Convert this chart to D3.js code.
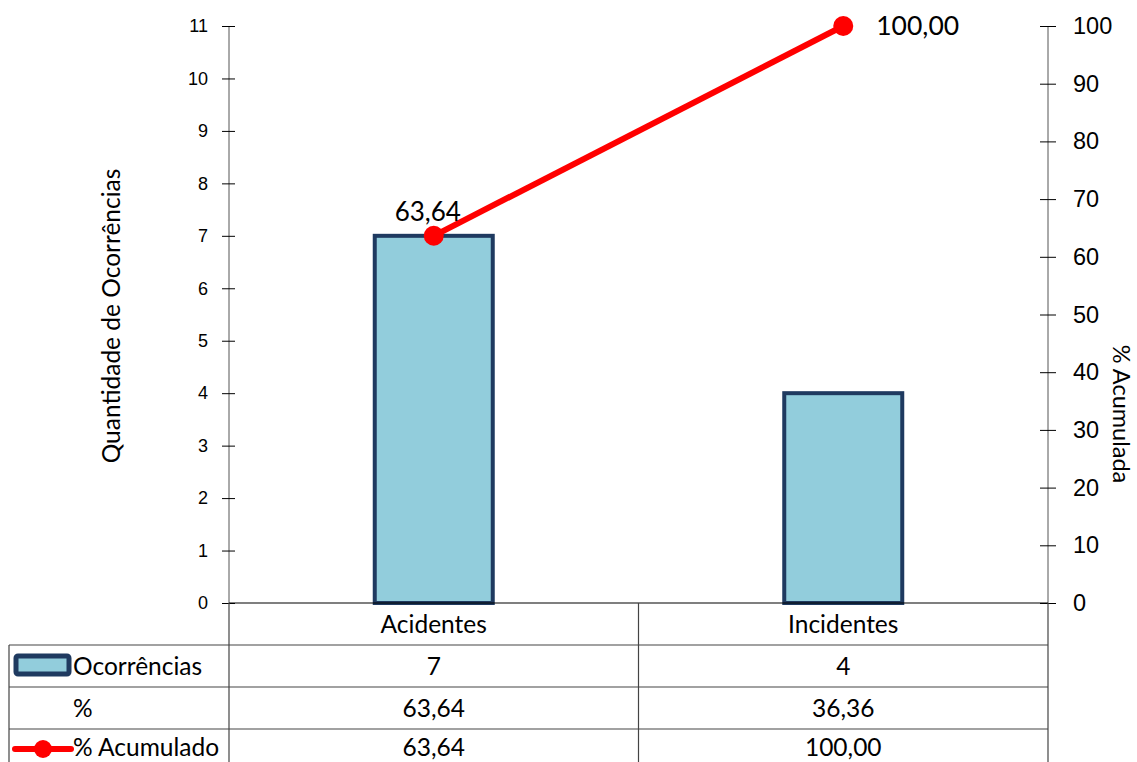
<!DOCTYPE html>
<html>
<head>
<meta charset="utf-8">
<script src="https://cdn.jsdelivr.net/npm/d3@7"></script>
<style>
body { margin: 0; background: #fff; }
svg { font-family: Lato, "Open Sans", sans-serif; }
</style>
</head>
<body>
<svg width="1137" height="762"></svg>
<script>
let categories = ["Acidentes", "Incidentes"];
let ocorrencias = [7, 4];
let percent = ["63,64", "36,36"];
let acumulado = [63.64, 100.00];
let acumuladoLabels = ["63,64", "100,00"];
let leftTicks = [0, 1, 2, 3, 4, 5, 6, 7, 8, 9, 10, 11];
let rightTicks = [0, 10, 20, 30, 40, 50, 60, 70, 80, 90, 100];

let svg = d3.select("svg");
let plot = { left: 229, right: 1048, top: 26, bottom: 603 };
let rowH = 42;
let cellFont = "24.5px";

let x = d3.scaleBand()
	.domain(categories)
	.range([plot.left, plot.right]);

let yL = d3.scaleLinear().domain([0, 11]).range([plot.bottom, plot.top]);
let yR = d3.scaleLinear().domain([0, 100]).range([plot.bottom, plot.top]);

// left axis
let gl = svg.append("g").attr("transform", "translate(" + plot.left + ",0)")
	.call(d3.axisLeft(yL).tickValues(leftTicks).tickSize(7).tickPadding(14));
gl.selectAll(".tick line").attr("x2", 6).attr("x1", -7);
gl.selectAll("text").style("font-size", "18px").attr("fill", "#000");
gl.select(".domain").attr("d", "M0," + plot.top + "V" + plot.bottom).attr("stroke", "#555");

// right axis
let gr = svg.append("g").attr("transform", "translate(" + plot.right + ",0)")
	.call(d3.axisRight(yR).tickValues(rightTicks).tickSize(8).tickPadding(17));
gr.selectAll(".tick line").attr("x1", -8).attr("x2", 8);
gr.selectAll("text").style("font-size", "23.5px").attr("fill", "#000");
gr.select(".domain").attr("d", "M0," + plot.top + "V" + plot.bottom).attr("stroke", "#555");

// axis titles
svg.append("text")
	.attr("transform", "translate(120,316) rotate(-90)")
	.attr("text-anchor", "middle")
	.style("font-size", "24.5px")
	.text("Quantidade de Ocorrências");
svg.append("text")
	.attr("transform", "translate(1113,414) rotate(90)")
	.attr("text-anchor", "middle")
	.style("font-size", "23.5px")
	.text("% Acumulada");

// bars
let barW = 118;
svg.selectAll(".bar")
	.data(categories)
	.enter()
	.append("rect")
	.attr("class", "bar")
	.attr("x", d => x(d) + x.bandwidth() / 2 - barW / 2)
	.attr("y", (d, i) => yL(ocorrencias[i]))
	.attr("width", barW)
	.attr("height", (d, i) => plot.bottom - yL(ocorrencias[i]))
	.attr("fill", "#92CDDC")
	.attr("stroke", "#1F3A60")
	.attr("stroke-width", 4);

// table grid
let grid = svg.append("g").attr("stroke", "#444").attr("stroke-width", 1.2);
grid.append("line").attr("x1", plot.left).attr("x2", plot.right).attr("y1", plot.bottom).attr("y2", plot.bottom).attr("stroke", "#000");
for (let r = 1; r <= 3; r++) {
	let yy = plot.bottom + r * rowH;
	grid.append("line").attr("x1", 9).attr("x2", plot.right).attr("y1", yy).attr("y2", yy);
}
grid.append("line").attr("x1", 9).attr("x2", 9).attr("y1", plot.bottom + rowH).attr("y2", 762);
[plot.left, plot.left + x.bandwidth(), plot.right].forEach(xx => {
	grid.append("line").attr("x1", xx).attr("x2", xx).attr("y1", plot.bottom).attr("y2", 762);
});

// table texts
let rows = [categories, ocorrencias, percent, acumuladoLabels];
rows.forEach((row, r) => {
	svg.selectAll(".cell" + r)
		.data(row)
		.enter()
		.append("text")
		.attr("x", (d, i) => x(categories[i]) + x.bandwidth() / 2)
		.attr("y", plot.bottom + r * rowH + (r === 3 ? 27 : 30))
		.attr("text-anchor", "middle")
		.style("font-size", cellFont)
		.text(d => d);
});

// row headers with legend keys
svg.append("rect")
	.attr("x", 16).attr("y", 656).attr("width", 53).attr("height", 18).attr("rx", 2)
	.attr("fill", "#92CDDC").attr("stroke", "#1F3A60").attr("stroke-width", 5);
svg.append("text").attr("x", 73).attr("y", plot.bottom + rowH + 30).style("font-size", cellFont).text("Ocorrências");
svg.append("text").attr("x", 73).attr("y", plot.bottom + 2 * rowH + 30).style("font-size", cellFont).text("%");
svg.append("line")
	.attr("x1", 15).attr("x2", 71).attr("y1", 749).attr("y2", 749)
	.attr("stroke", "red").attr("stroke-width", 6).attr("stroke-linecap", "round");
svg.append("circle").attr("cx", 43).attr("cy", 749).attr("r", 9).attr("fill", "red");
svg.append("text").attr("x", 73).attr("y", plot.bottom + 3 * rowH + 27).style("font-size", cellFont).text("% Acumulado");

// cumulative line
let line = d3.line()
	.x((d, i) => x(categories[i]) + x.bandwidth() / 2)
	.y(d => yR(d));
svg.append("path")
	.datum(acumulado)
	.attr("d", line)
	.attr("fill", "none")
	.attr("stroke", "red")
	.attr("stroke-width", 6);
svg.selectAll(".pt")
	.data(acumulado)
	.enter()
	.append("circle")
	.attr("cx", (d, i) => x(categories[i]) + x.bandwidth() / 2)
	.attr("cy", d => yR(d))
	.attr("r", 10)
	.attr("fill", "red");

// data labels
svg.append("text")
	.attr("x", x(categories[0]) + x.bandwidth() / 2 - 6)
	.attr("y", yR(acumulado[0]) - 15)
	.attr("text-anchor", "middle")
	.style("font-size", "26px")
	.text(acumuladoLabels[0]);
svg.append("text")
	.attr("x", x(categories[1]) + x.bandwidth() / 2 + 33)
	.attr("y", yR(acumulado[1]) + 9)
	.style("font-size", "26.5px")
	.text(acumuladoLabels[1]);
</script>
</body>
</html>
